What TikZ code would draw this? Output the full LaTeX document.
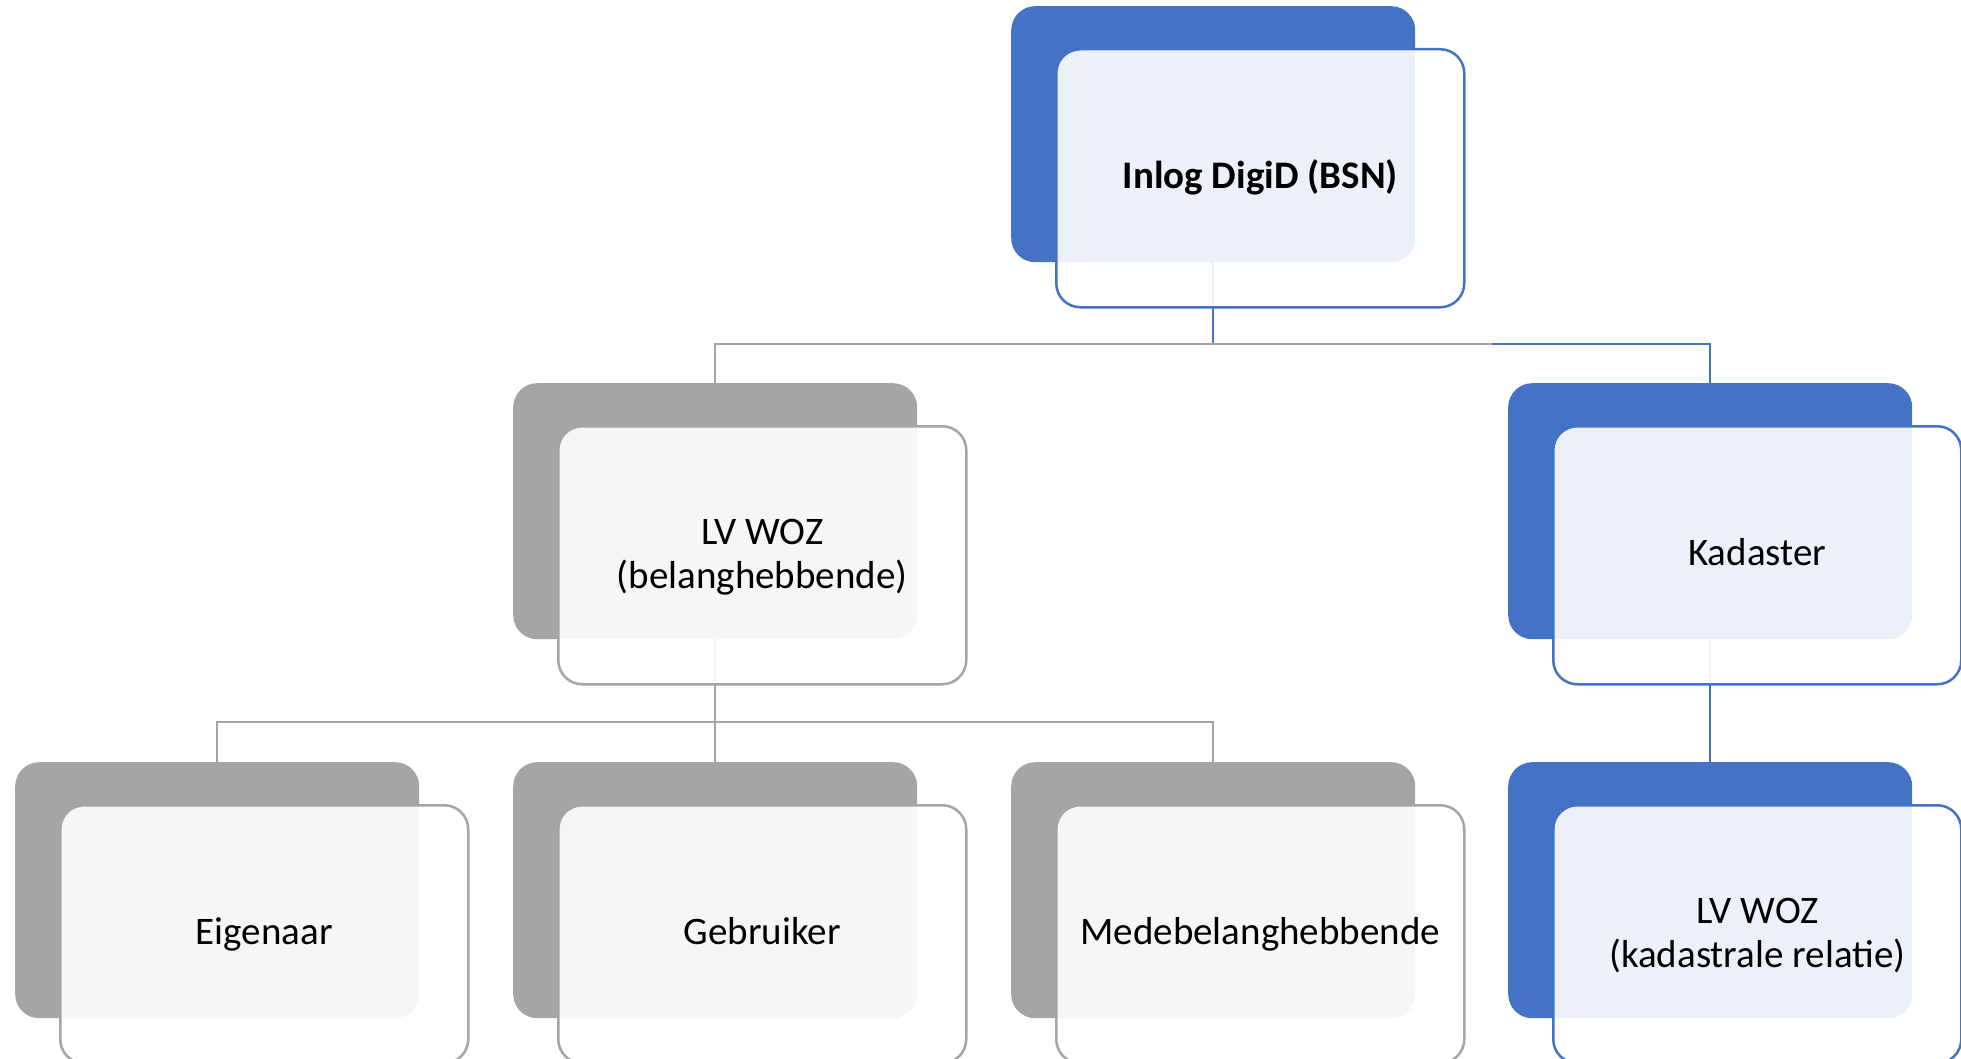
\documentclass[tikz,border=0pt]{standalone}
\usepackage{fontspec}
\setmainfont{Carlito}
\definecolor{accblue}{HTML}{4472C4}
\definecolor{accgray}{HTML}{A5A5A5}
\newcommand\mystrut{\rule[-12pt]{0pt}{44pt}}
\newcommand\tallstrut{\rule[-12pt]{0pt}{46pt}}
\tikzset{
  backbox/.style={rectangle, rounded corners=24pt, minimum width=404pt, minimum height=256pt, inner sep=0pt, anchor=north west, draw=none},
  frontbox/.style={rectangle, rounded corners=24pt, minimum width=408pt, minimum height=258pt, inner sep=0pt, anchor=north west, fill=white, fill opacity=0.9, text opacity=1, line width=2.5pt, align=center, font=\fontsize{39}{44}\selectfont, text=black},
  bluebk/.style={backbox, fill=accblue},
  graybk/.style={backbox, fill=accgray},
  bluefr/.style={frontbox, draw=accblue},
  grayfr/.style={frontbox, draw=accgray},
  blueln/.style={draw=accblue, line width=2.5pt},
  grayln/.style={draw=accgray, line width=2.5pt}
}
\begin{document}
\begin{tikzpicture}[x=1pt,y=-1pt]
\useasboundingbox (0,0) rectangle (1961,1059);
% back boxes
\node[bluebk] (rootB) at (1011,6) {};
\node[graybk] (lvB) at (513,383) {};
\node[bluebk] (kadB) at (1508,383) {};
\node[graybk] (eigB) at (15,762) {};
\node[graybk] (gebB) at (513,762) {};
\node[graybk] (medB) at (1011,762) {};
\node[bluebk] (kvB) at (1508,762) {};
% connectors (under the front boxes)
\coordinate (gEnd) at (1492,344);
\draw[blueln] (rootB.south) -- (rootB.south |- 0,344) -| (kadB.north);
\draw[grayln] (lvB.north) |- (gEnd);
\draw[grayln] (lvB.south) -- (lvB.south |- 0,722) -| (eigB.north);
\draw[grayln] (lvB.south |- 0,722) -| (medB.north);
\draw[grayln] (lvB.south) -- (gebB.north);
\draw[blueln] (kadB.south) -- (kvB.north);
% front boxes
\node[bluefr, font=\fontsize{39}{44}\selectfont\bfseries] (root) at (1055,48) {\mystrut Inlog DigiD (BSN)\mystrut};
\node[grayfr] (lv) at (557,425) {\tallstrut LV WOZ\\(belanghebbende)\mystrut};
\node[bluefr] (kad) at (1552,425) {\mystrut Kadaster};
\node[grayfr] (eig) at (59,804) {\mystrut Eigenaar};
\node[grayfr] (geb) at (557,804) {\mystrut Gebruiker};
\node[grayfr] (med) at (1055,804) {\mystrut Medebelanghebbende};
\node[bluefr] (kv) at (1552,804) {\tallstrut LV WOZ\\(kadastrale relatie)\mystrut};
\end{tikzpicture}
\end{document}
